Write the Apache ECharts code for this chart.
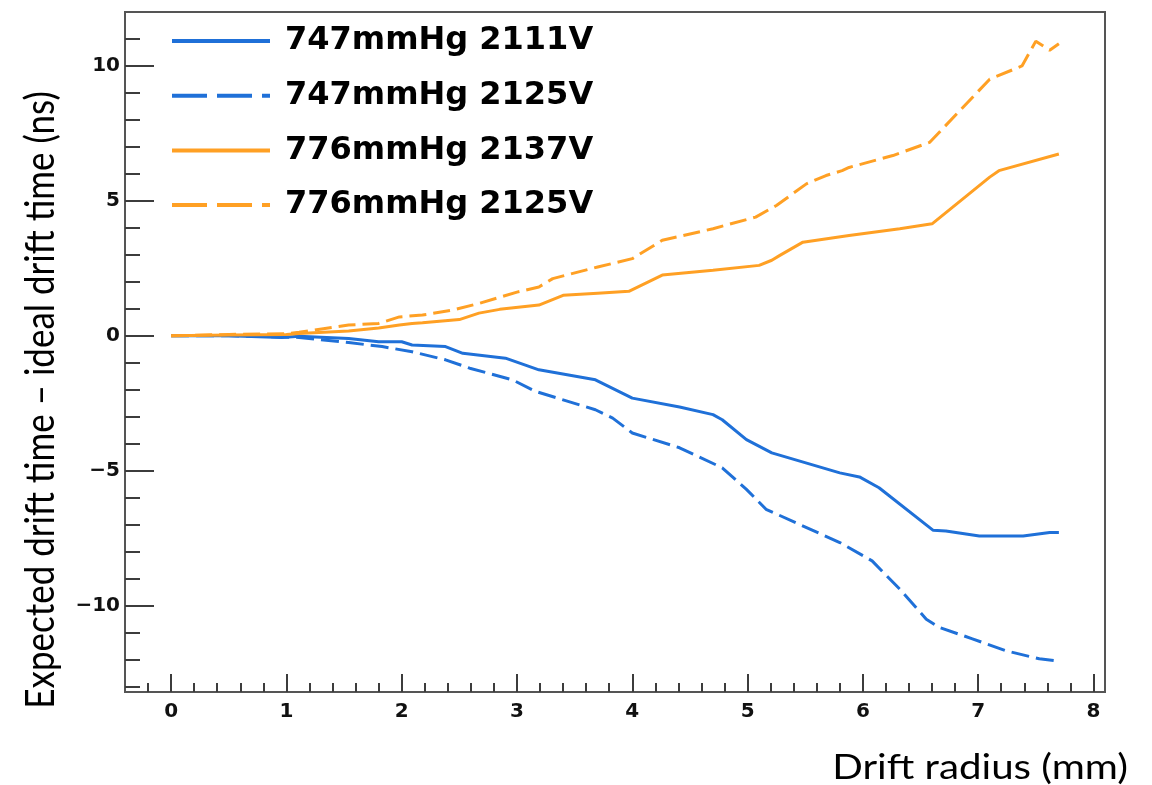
<!DOCTYPE html>
<html>
<head>
<meta charset="utf-8">
<script src="https://cdn.jsdelivr.net/npm/echarts@6/dist/echarts.min.js"></script>
<style>
html,body{margin:0;padding:0;background:#fff;}
#chart{width:1152px;height:785px;}
</style>
</head>
<body>
<div id="chart"></div>
<script>
// ---- data ----
const seriesNames = ['747mmHg 2111V', '747mmHg 2125V', '776mmHg 2137V', '776mmHg 2125V'];

const blueSolidX = [0, 0.5, 0.96, 1.11, 1.54, 1.8, 2.0, 2.09, 2.38, 2.53, 2.9, 3.19, 3.68, 4.0, 4.41, 4.7, 4.78, 4.99, 5.21, 5.8, 5.97, 6.14, 6.61, 6.72, 7.01, 7.39, 7.62, 7.7];
const blueSolidY = [0, 0, -0.06, -0.02, -0.1, -0.22, -0.22, -0.34, -0.4, -0.65, -0.83, -1.26, -1.63, -2.31, -2.64, -2.92, -3.11, -3.85, -4.34, -5.08, -5.23, -5.63, -7.21, -7.23, -7.42, -7.42, -7.29, -7.29];

const blueDashX = [0, 0.5, 1.11, 1.54, 1.83, 2.09, 2.38, 2.59, 2.96, 3.16, 3.68, 3.83, 4.0, 4.41, 4.78, 4.99, 5.16, 5.8, 6.08, 6.32, 6.55, 6.66, 6.95, 7.24, 7.53, 7.7];
const blueDashY = [0, 0, -0.06, -0.25, -0.4, -0.59, -0.89, -1.2, -1.63, -2.06, -2.74, -3.05, -3.6, -4.15, -4.89, -5.69, -6.43, -7.66, -8.34, -9.39, -10.5, -10.8, -11.23, -11.67, -11.97, -12.06];

const orangeSolidX = [0, 0.5, 1.0, 1.11, 1.54, 1.8, 1.98, 2.09, 2.18, 2.5, 2.67, 2.85, 3.19, 3.4, 3.7, 3.97, 4.26, 4.7, 5.1, 5.21, 5.28, 5.48, 5.88, 6.32, 6.6, 7.1, 7.18, 7.7];
const orangeSolidY = [0, 0.03, 0.05, 0.09, 0.18, 0.29, 0.4, 0.46, 0.48, 0.6, 0.84, 0.98, 1.14, 1.5, 1.58, 1.65, 2.25, 2.43, 2.61, 2.8, 2.98, 3.47, 3.72, 3.97, 4.15, 5.88, 6.12, 6.74];

const orangeDashX = [0, 0.5, 1.0, 1.11, 1.54, 1.8, 1.98, 2.18, 2.44, 2.67, 3.0, 3.19, 3.31, 3.7, 4.0, 4.26, 4.7, 5.07, 5.25, 5.51, 5.68, 5.82, 5.88, 6.26, 6.58, 7.1, 7.38, 7.5, 7.62, 7.7];
const orangeDashY = [0, 0.05, 0.08, 0.13, 0.4, 0.46, 0.7, 0.77, 0.95, 1.2, 1.62, 1.81, 2.12, 2.55, 2.86, 3.54, 3.97, 4.4, 4.83, 5.63, 5.94, 6.12, 6.24, 6.68, 7.17, 9.51, 10.0, 10.92, 10.58, 10.82];

const xTitle = 'Drift radius (mm)';
const yTitle = 'Expected drift time \u2013 ideal drift time (ns)';

// ---- layout ----
const W = 1152, H = 785;
const L = 125, R = 1105, T = 12, B = 692;
const XMIN = -0.4, XMAX = 8.1, YMIN = -13.2, YMAX = 12;
const kx = (R - L) / (XMAX - XMIN), ky = (B - T) / (YMAX - YMIN);
const px = v => L + (v - XMIN) * kx;
const py = v => T + (YMAX - v) * ky;

const BLUE = '#1f70d8', ORANGE = '#ffa024';
const tickColor = '#3c3c3c';
const pair = (xs, ys) => xs.map((x, i) => [x, ys[i]]);

const labelFont = {fontFamily: 'DejaVu Sans', fontWeight: 'bold', fontSize: 20, color: '#111'};
const hidden = (g) => ({gridIndex: g, type: 'value', show: false, min: 0, max: 1});
const noSymbol = {color: 'transparent', borderWidth: 0, opacity: 0};

const option = {
  animation: false,
  backgroundColor: '#fff',
  grid: [
    {left: L, right: W - R, top: T, bottom: H - B, show: true, borderColor: '#555', borderWidth: 2, backgroundColor: 'transparent', outerBoundsMode: 'none', containLabel: false},
    {left: px(-0.2), right: W - px(8), top: T, bottom: H - B, outerBoundsMode: 'none', containLabel: false},
    {left: px(0), right: W - px(8), top: T, bottom: H - B, outerBoundsMode: 'none', containLabel: false},
    {left: L, right: W - R, top: py(11), bottom: H - py(-13), outerBoundsMode: 'none', containLabel: false},
    {left: L, right: W - R, top: py(10), bottom: H - py(-10), outerBoundsMode: 'none', containLabel: false}
  ],
  xAxis: [
    {gridIndex: 0, type: 'value', min: XMIN, max: XMAX, show: false},
    {gridIndex: 1, type: 'value', min: -0.2, max: 8, interval: 0.2,
     axisLine: {show: false}, splitLine: {show: false}, axisLabel: {show: false},
     axisTick: {inside: true, length: 9, lineStyle: {color: tickColor, width: 2}}},
    {gridIndex: 2, type: 'value', min: 0, max: 8, interval: 1,
     axisLine: {show: false}, splitLine: {show: false},
     axisLabel: Object.assign({margin: 10}, labelFont),
     axisTick: {inside: true, length: 18, lineStyle: {color: tickColor, width: 2}}},
    hidden(3), hidden(4)
  ],
  yAxis: [
    {gridIndex: 0, type: 'value', min: YMIN, max: YMAX, show: false},
    hidden(1), hidden(2),
    {gridIndex: 3, type: 'value', min: -13, max: 11, interval: 1,
     axisLine: {show: false}, splitLine: {show: false}, axisLabel: {show: false},
     axisTick: {inside: true, length: 15, lineStyle: {color: tickColor, width: 2}}},
    {gridIndex: 4, type: 'value', min: -10, max: 10, interval: 5,
     axisLine: {show: false}, splitLine: {show: false},
     axisLabel: Object.assign({margin: 5, formatter: v => v < 0 ? '\u2212' + Math.abs(v) : String(v)}, labelFont),
     axisTick: {inside: true, length: 29, lineStyle: {color: tickColor, width: 2}}}
  ],
  legend: {
    orient: 'vertical', left: 165, top: 16,
    itemWidth: 98, itemHeight: 14, itemGap: 14.7,
    itemStyle: noSymbol,
    textStyle: {fontFamily: 'DejaVu Sans', fontWeight: 'bold', fontSize: 32, color: '#000', lineHeight: 40, padding: [0, 0, 0, 10]},
    data: [
      {name: seriesNames[0], itemStyle: noSymbol, lineStyle: {width: 4, type: 'solid'}},
      {name: seriesNames[1], itemStyle: noSymbol, lineStyle: {width: 4, type: [35, 10]}},
      {name: seriesNames[2], itemStyle: noSymbol, lineStyle: {width: 4, type: 'solid'}},
      {name: seriesNames[3], itemStyle: noSymbol, lineStyle: {width: 4, type: [35, 10]}}
    ]
  },
  series: [
    {name: seriesNames[0], type: 'line', xAxisIndex: 0, yAxisIndex: 0, symbol: 'none', color: BLUE,
     lineStyle: {color: BLUE, width: 3}, data: pair(blueSolidX, blueSolidY)},
    {name: seriesNames[1], type: 'line', xAxisIndex: 0, yAxisIndex: 0, symbol: 'none', color: BLUE,
     lineStyle: {color: BLUE, width: 3, type: [18, 7]}, data: pair(blueDashX, blueDashY)},
    {name: seriesNames[2], type: 'line', xAxisIndex: 0, yAxisIndex: 0, symbol: 'none', color: ORANGE,
     lineStyle: {color: ORANGE, width: 3}, data: pair(orangeSolidX, orangeSolidY)},
    {name: seriesNames[3], type: 'line', xAxisIndex: 0, yAxisIndex: 0, symbol: 'none', color: ORANGE,
     lineStyle: {color: ORANGE, width: 3, type: [17, 7]}, data: pair(orangeDashX, orangeDashY)}
  ],
  graphic: [
    {type: 'text', x: 1128, y: 768, scaleX: 1.15,
     style: {text: xTitle, font: '35px Lato', fill: '#000', align: 'right', verticalAlign: 'middle'}},
    {type: 'text', x: 41, y: 400, rotation: Math.PI / 2, scaleY: 1.17,
     style: {text: yTitle, font: '35px Lato', fill: '#000', align: 'center', verticalAlign: 'middle'}}
  ]
};

const chart = echarts.init(document.getElementById('chart'), null, {renderer: 'canvas'});
chart.setOption(option);
</script>
</body>
</html>
